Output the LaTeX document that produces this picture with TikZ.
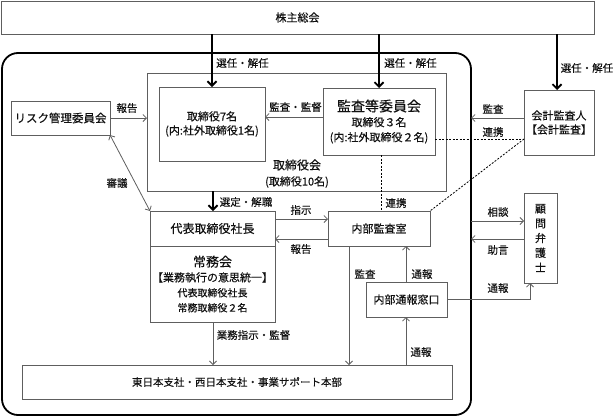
\documentclass[tikz,border=0pt]{standalone}
\usepackage{fontspec}
\setmainfont{Noto Sans CJK JP}[FakeBold=0.3]
\usetikzlibrary{arrows.meta}
\definecolor{ln}{HTML}{5E5E5E}
\definecolor{tx}{HTML}{111111}
\tikzset{
  box/.style={draw=ln, line width=0.9pt, inner sep=0pt, outer sep=0pt, align=center, text=tx},
  lab/.style={inner sep=0pt, text=tx, font=\fontsize{10.5}{12}\selectfont},
  arr/.style={draw=ln, line width=0.8pt, -{Straight Barb[length=3.5pt,width=7pt]}},
  biarr/.style={draw=ln, line width=0.8pt, {Straight Barb[length=3.5pt,width=7pt]}-{Straight Barb[length=3.5pt,width=7pt]}},
  bigarr/.style={draw=black, line width=1.8pt, -{Straight Barb[length=4.5pt,width=9pt]}},
  dotl/.style={draw=black, line width=0.8pt, dash pattern=on 2pt off 1.5pt},
}
\begin{document}
\begin{tikzpicture}[x=1pt,y=-1pt]
\useasboundingbox (0,0) rectangle (613,418);

% boxes
\node[box, minimum width=593pt, minimum height=33pt, font=\fontsize{11}{13}\selectfont] (gm) at (297.5,17.5) {株主総会};
\node[draw=black, line width=1.8pt, rounded corners=16pt, minimum width=469pt, minimum height=362pt, inner sep=0pt, outer sep=0pt] (company) at (236.5,234) {};
\node[box, minimum width=299pt, minimum height=118pt] (board) at (296.5,132) {};
\node[lab, font=\fontsize{12}{14}\selectfont] (boardname) at (297,165) {取締役会};
\node[lab, font=\fontsize{11}{13}\selectfont] (boardnum) at (297,182) {(取締役10名)};
\node[box, minimum width=106pt, minimum height=74pt, font=\fontsize{11}{14}\selectfont] (dir7) at (212,124) {取締役7名\\(内:社外取締役1名)};
\node[box, minimum width=112pt, minimum height=67pt, font=\fontsize{11}{15}\selectfont] (audit) at (379,121.5) {{\fontsize{14}{15}\selectfont 監査等委員会}\\取締役３名\\(内:社外取締役２名)};
\node[box, minimum width=70pt, minimum height=65pt, font=\fontsize{11}{14}\selectfont] (acct) at (559,122.5) {会計監査人\\【会計監査】};
\node[box, minimum width=99pt, minimum height=34pt, font=\fontsize{11.5}{13}\selectfont] (risk) at (60.5,118) {リスク管理委員会};
\node[box, minimum width=125pt, minimum height=35pt, font=\fontsize{12}{14}\selectfont] (pres) at (212.5,228.5) {代表取締役社長};
\node[box, minimum width=125pt, minimum height=76pt, font=\fontsize{10}{15}\selectfont] (jomu) at (212.5,284) {{\fontsize{13}{15}\selectfont 常務会}\\{\fontsize{11}{15}\selectfont 【業務執行の意思統一】}\\代表取締役社長\\常務取締役２名};
\node[box, minimum width=102pt, minimum height=35pt, font=\fontsize{11}{13}\selectfont] (ia) at (379,228.5) {内部監査室};
\node[box, minimum width=33pt, minimum height=90pt, font=\fontsize{11}{14.75}\selectfont] (lawyer) at (540.5,238) {顧\\問\\弁\\護\\士};
\node[box, minimum width=81pt, minimum height=35pt, font=\fontsize{11}{13}\selectfont] (whistle) at (406.5,299.5) {内部通報窓口};
\node[box, minimum width=430pt, minimum height=34pt, font=\fontsize{10.5}{13}\selectfont] (branch) at (237,382) {東日本支社・西日本支社・事業サポート本部};

% thick arrows from shareholders
\draw[bigarr] (gm.south -| dir7.north) -- (dir7.north);
\node[lab] (l1) at (242.5,63) {選任・解任};
\draw[bigarr] (gm.south -| audit.north) -- (audit.north);
\node[lab] (l2) at (410.5,63) {選任・解任};
\draw[bigarr] (gm.south -| 557,0) -- (acct.north -| 557,0);
\node[lab] (l3) at (587,68) {選任・解任};

% board area
\draw[arr] (risk.east) -- (board.west |- risk.east);
\node[lab] (l4) at (127,108) {報告};
\draw[arr] (audit.west |- 0,117) -- (dir7.east |- 0,117);
\node[lab] (l5) at (295.5,107) {監査・監督};
\draw[arr] (acct.west |- 0,118) -- (company.east |- 0,118);
\node[lab] (l6) at (493,109) {監査};
\node[lab] (l7) at (493,132) {連携};
\draw[dotl] (audit.east |- 0,139) -- (acct.west |- 0,139);
\draw[dotl] (acct.west |- 0,139) -- (ia.north east);
\draw[dotl] (audit.south -| 381,0) -- (ia.north -| 381,0);
\node[lab] (l8) at (396,203) {連携};

% risk <-> president
\draw[biarr] (risk.south east) -- (pres.north west);
\node[lab] (l9) at (117,183) {審議};

% board -> president
\draw[bigarr] (board.south -| 213,0) -- (pres.north -| 213,0);
\node[lab] (l10) at (246,202) {選定・解職};

% president <-> internal audit
\draw[arr] (pres.east |- 0,219) -- (ia.west |- 0,219);
\node[lab] (l11) at (301,210) {指示};
\draw[arr] (ia.west |- 0,239) -- (pres.east |- 0,239);
\node[lab] (l12) at (301,249) {報告};

% lawyer
\draw[arr] (company.east |- 0,221) -- (lawyer.west |- 0,221);
\node[lab] (l13) at (498,212) {相談};
\draw[arr] (lawyer.west |- 0,239) -- (company.east |- 0,239);
\node[lab] (l14) at (498,250) {助言};

% internal audit lines
\draw[arr] (ia.south -| 349,0) -- (branch.north -| 349,0);
\node[lab] (l15) at (365,274) {監査};
\draw[arr] (whistle.north -| 406,0) -- (ia.south -| 406,0);
\node[lab] (l16) at (422,274) {通報};
\draw[arr] (branch.north -| 406,0) -- (whistle.south -| 406,0);
\node[lab] (l17) at (421,352) {通報};
\draw[arr] (whistle.east) -- (whistle.east -| 530,0) -- (lawyer.south -| 530,0);
\node[lab] (l18) at (498,288) {通報};

% jomu -> branches
\draw[arr] (jomu.south -| 213,0) -- (branch.north -| 213,0);
\node[lab] (l19) at (253.5,335) {業務指示・監督};
\end{tikzpicture}
\end{document}
